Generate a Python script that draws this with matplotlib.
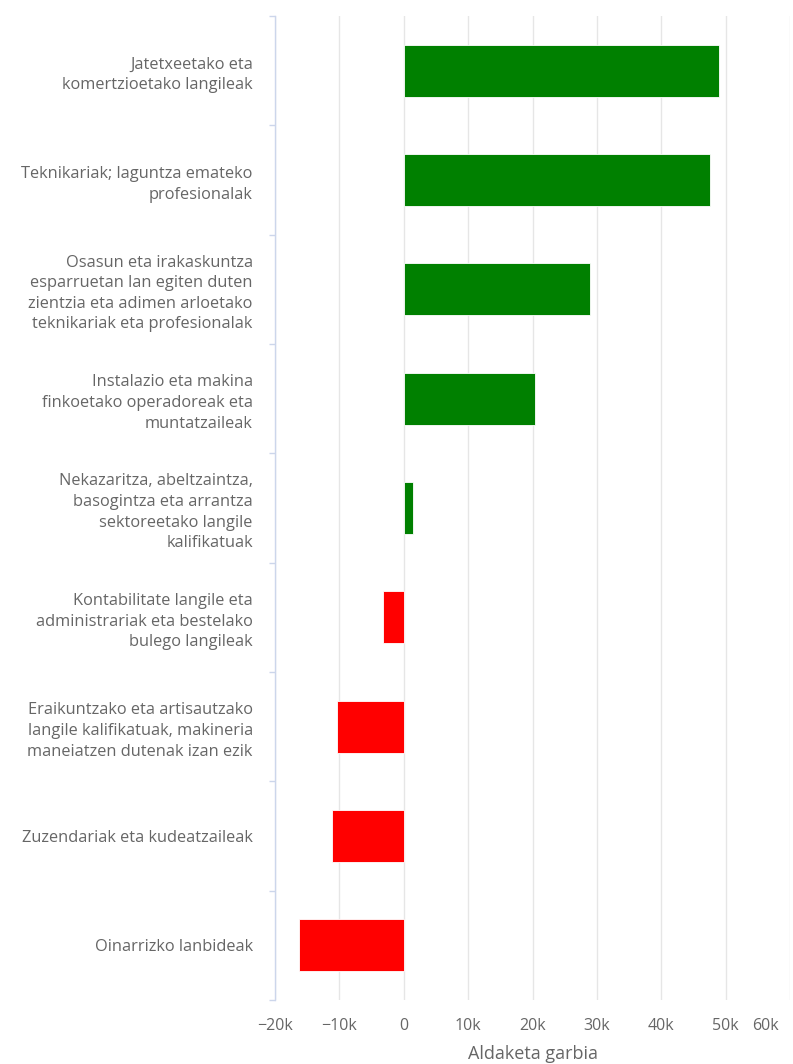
import matplotlib
matplotlib.use("Agg")
import matplotlib.pyplot as plt
from matplotlib.ticker import FixedLocator
from matplotlib.transforms import ScaledTranslation

plt.rcParams['font.family'] = ['Open Sans', 'DejaVu Sans']

categories = [
    "Jatetxeetako eta\nkomertzioetako langileak",
    "Teknikariak; laguntza emateko\nprofesionalak",
    "Osasun eta irakaskuntza\nesparruetan lan egiten duten\nzientzia eta adimen arloetako\nteknikariak eta profesionalak",
    "Instalazio eta makina\nfinkoetako operadoreak eta\nmuntatzaileak",
    "Nekazaritza, abeltzaintza,\nbasogintza eta arrantza\nsektoreetako langile\nkalifikatuak",
    "Kontabilitate langile eta\nadministrariak eta bestelako\nbulego langileak",
    "Eraikuntzako eta artisautzako\nlangile kalifikatuak, makineria\nmaneiatzen dutenak izan ezik",
    "Zuzendariak eta kudeatzaileak",
    "Oinarrizko lanbideak",
]
values = [49000, 47600, 28900, 20400, 1450, -3250, -10400, -11150, -16300]
x_ticks = [-20000, -10000, 0, 10000, 20000, 30000, 40000, 50000, 60000]
x_tick_labels = ["−20k", "−10k", "0", "10k", "20k", "30k", "40k", "50k", "60k"]
x_title = "Aldaketa garbia"

pos_color = "#008000"
neg_color = "#ff0000"
text_color = "#666666"
grid_color = "#e6e6e6"
axis_color = "#ccd6eb"

W, H = 793, 1064
fig = plt.figure(figsize=(W / 100, H / 100), dpi=100)
left, right, top, bottom = 275, 790, 16, 1000
ax = fig.add_axes([left / W, 1 - bottom / H, (right - left) / W, (bottom - top) / H])

ypos = list(range(len(categories)))
colors = [pos_color if v >= 0 else neg_color for v in values]
ax.barh(ypos, values, height=0.475, color=colors, edgecolor="#ffffff",
        linewidth=0.6, zorder=3)

ax.set_xlim(x_ticks[0], x_ticks[-1])
ax.set_ylim(len(categories) - 0.5, -0.5)

ax.set_xticks(x_ticks)
ax.set_xticklabels(x_tick_labels, fontsize=11.5, color=text_color)
ax.tick_params(axis="x", length=0, pad=13)
ax.grid(axis="x", color=grid_color, linewidth=1.0, zorder=0)
last = ax.get_xticklabels()[-1]
last.set_horizontalalignment("right")
last.set_transform(last.get_transform() + ScaledTranslation(-0.11, 0, fig.dpi_scale_trans))

ax.set_yticks(ypos)
ax.set_yticklabels(categories, fontsize=11.8, color=text_color,
                   linespacing=1.38)
ax.tick_params(axis="y", which="major", length=0, pad=16)
ax.yaxis.set_minor_locator(FixedLocator([i - 0.5 for i in range(len(categories) + 1)]))
ax.tick_params(axis="y", which="minor", length=4, width=1, color=axis_color)

for s in ["top", "right", "bottom"]:
    ax.spines[s].set_visible(False)
ax.spines["left"].set_color(axis_color)
ax.spines["left"].set_linewidth(1)
ax.spines["left"].set_zorder(4)

ax.set_xlabel(x_title, fontsize=13, color=text_color, labelpad=8)

fig.savefig("out.png", dpi=100, facecolor="white")
